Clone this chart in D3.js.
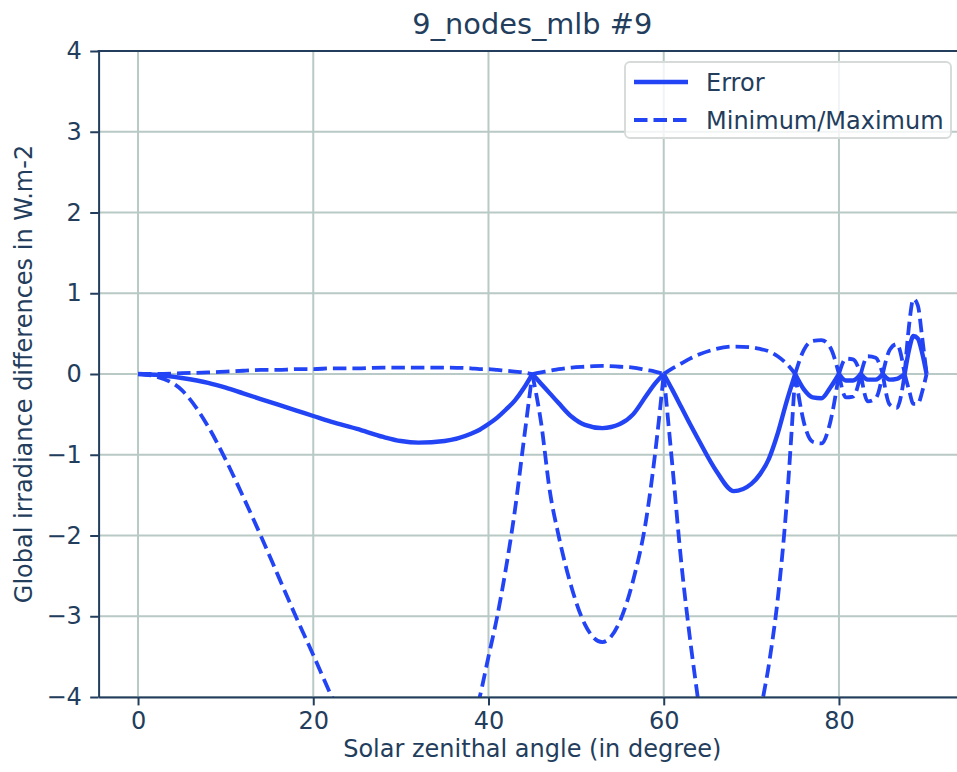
<!DOCTYPE html>
<html>
<head>
<meta charset="utf-8">
<script src="https://cdn.jsdelivr.net/npm/d3@7"></script>
<style>
body { margin: 0; background: #fff; }
text { font-family: "DejaVu Sans", sans-serif; fill: #233d5c; }
</style>
</head>
<body>
<div id="chart-area"></div>
<script>

let width = 957,
    height = 772;

// solar zenithal angle samples (nodes at 0, 45, 60, 75, 80, 82.5, 85, 87.5, 90)
let nodes = [0, 45, 60, 75, 80, 82.5, 85, 87.5, 90];

let angles = [0, 2, 5, 8, 10, 12, 14, 16, 18, 20, 22, 25, 28, 30, 32, 35, 38, 39, 40, 41, 42, 43, 44, 45,
  46, 47, 48, 49.5, 51, 53, 55, 56.5, 58, 59, 60,
  61, 62, 63, 64, 66, 68, 70, 71, 72, 73, 74, 75,
  76, 77, 78, 79, 80,
  80.8, 81.6, 82.5,
  83.3, 84.2, 85,
  85.8, 86.6, 87.5,
  88, 88.5, 89, 89.5, 90];

let errorVals = [0, -0.01, -0.05, -0.11, -0.17, -0.24, -0.31, -0.38, -0.45, -0.52, -0.59, -0.68, -0.78, -0.83, -0.85, -0.83, -0.74, -0.69, -0.62, -0.54, -0.44, -0.33, -0.18, 0,
  -0.12, -0.24, -0.36, -0.53, -0.63, -0.67, -0.62, -0.5, -0.27, -0.12, 0,
  -0.2, -0.41, -0.62, -0.82, -1.2, -1.45, -1.36, -1.24, -1.05, -0.74, -0.35, 0,
  -0.19, -0.29, -0.3, -0.17, 0,
  -0.08, -0.08, 0,
  -0.07, -0.07, 0,
  -0.07, -0.06, 0,
  0.3, 0.47, 0.44, 0.26, 0];

let maxVals = [0, 0, 0.01, 0.02, 0.03, 0.04, 0.05, 0.05, 0.06, 0.06, 0.07, 0.07, 0.08, 0.08, 0.08, 0.08, 0.07, 0.06, 0.06, 0.05, 0.04, 0.03, 0.02, 0,
  0.02, 0.04, 0.06, 0.08, 0.09, 0.1, 0.09, 0.08, 0.05, 0.03, 0,
  0.07, 0.13, 0.19, 0.24, 0.31, 0.34, 0.33, 0.31, 0.28, 0.22, 0.13, 0,
  0.3, 0.41, 0.42, 0.33, 0,
  0.19, 0.18, 0,
  0.22, 0.2, 0,
  0.3, 0.37, 0,
  0.6, 0.93, 0.85, 0.45, 0];

let minVals = [0, -0.03, -0.2, -0.65, -1.06, -1.52, -2.0, -2.5, -3.0, -3.48, -3.97, -4.6, -5.1, -5.3, -5.4, -5.2, -4.4, -4.0, -3.5, -3.0, -2.4, -1.7, -0.85, 0,
  -0.6, -1.45, -2.0, -2.65, -3.1, -3.32, -3.06, -2.56, -1.8, -1.0, 0,
  -1.15, -2.33, -3.28, -4.1, -5.8, -6.4, -5.3, -4.25, -3.6, -2.8, -1.65, 0,
  -0.6, -0.84, -0.86, -0.6, 0,
  -0.29, -0.28, 0,
  -0.34, -0.3, 0,
  -0.38, -0.42, 0,
  -0.2, -0.37, -0.37, -0.22, 0];

let xTicks = [0, 20, 40, 60, 80];
let yTicks = [-4, -3, -2, -1, 0, 1, 2, 3, 4];

let lineColor = "#2244f5",
    inkColor = "#233d5c",
    gridColor = "#b9c9c5";

let margin = {left: 98.6, top: 51, bottom: 697, right: 966};

let svg = d3.select("#chart-area").append("svg")
    .attr("width", width)
    .attr("height", height)
    .style("background", "#fff");

let x = d3.scaleLinear().domain([-4.5, 94.5]).range([margin.left, margin.right]);
let y = d3.scaleLinear().domain([-4, 4]).range([margin.bottom, margin.top]);

svg.append("clipPath").attr("id", "plot-clip")
  .append("rect")
    .attr("x", margin.left)
    .attr("y", margin.top)
    .attr("width", margin.right - margin.left)
    .attr("height", margin.bottom - margin.top);

// grid
svg.selectAll(".vgrid")
  .data(xTicks)
  .enter().append("line")
    .attr("class", "vgrid")
    .attr("x1", function(d) { return x(d); })
    .attr("x2", function(d) { return x(d); })
    .attr("y1", margin.top)
    .attr("y2", margin.bottom)
    .style("stroke", gridColor)
    .style("stroke-width", 2);

svg.selectAll(".hgrid")
  .data(yTicks)
  .enter().append("line")
    .attr("class", "hgrid")
    .attr("x1", margin.left)
    .attr("x2", margin.right)
    .attr("y1", function(d) { return y(d); })
    .attr("y2", function(d) { return y(d); })
    .style("stroke", gridColor)
    .style("stroke-width", 2);

// curves, drawn piecewise between nodes so the cusps stay sharp
let line = d3.line()
    .x(function(d) { return x(d[0]); })
    .y(function(d) { return y(d[1]); })
    .curve(d3.curveMonotoneX);

function piecewise(vals) {
  let pts = angles.map(function(a, i) { return [a, vals[i]]; });
  let path = "";
  for (let k = 0; k < nodes.length - 1; k++) {
    let seg = pts.filter(function(p) { return p[0] >= nodes[k] && p[0] <= nodes[k + 1]; });
    path += line(seg);
  }
  return path;
}

let plot = svg.append("g").attr("clip-path", "url(#plot-clip)");

[maxVals, minVals].forEach(function(vals) {
  plot.append("path")
    .attr("d", piecewise(vals))
    .style("fill", "none")
    .style("stroke", lineColor)
    .style("stroke-width", 3.8)
    .style("stroke-dasharray", "13.5,6");
});

plot.append("path")
  .attr("d", piecewise(errorVals))
  .style("fill", "none")
  .style("stroke", lineColor)
  .style("stroke-width", 4.4)
  .style("stroke-linejoin", "round");

// axes
function fmt(d) { return d < 0 ? "\u2212" + Math.abs(d) : String(d); }

let xAxis = svg.append("g")
    .attr("transform", "translate(0," + margin.bottom + ")")
    .call(d3.axisBottom(x).tickValues(xTicks).tickSize(8.4).tickSizeOuter(0).tickPadding(7).tickFormat(fmt));

let yAxis = svg.append("g")
    .attr("transform", "translate(" + margin.left + ",0)")
    .call(d3.axisLeft(y).tickValues(yTicks).tickSize(8.4).tickSizeOuter(0).tickPadding(8.4).tickFormat(fmt));

[xAxis, yAxis].forEach(function(ax) {
  ax.select(".domain").style("stroke", inkColor).style("stroke-width", 2);
  ax.selectAll(".tick line").style("stroke", inkColor).style("stroke-width", 2);
  ax.selectAll(".tick text")
    .style("font-size", "24px")
    .style("font-family", "DejaVu Sans")
    .style("fill", inkColor);
});

// top spine
svg.append("line")
  .attr("x1", margin.left - 1).attr("x2", margin.right)
  .attr("y1", margin.top).attr("y2", margin.top)
  .style("stroke", inkColor)
  .style("stroke-width", 2);

// labels
svg.append("text")
  .attr("x", (margin.left + margin.right) / 2)
  .attr("y", 34)
  .attr("text-anchor", "middle")
  .style("font-size", "28.8px")
  .text("9_nodes_mlb #9");

svg.append("text")
  .attr("x", (margin.left + margin.right) / 2)
  .attr("y", 757)
  .attr("text-anchor", "middle")
  .style("font-size", "24px")
  .text("Solar zenithal angle (in degree)");

svg.append("text")
  .attr("transform", "translate(32," + (margin.top + margin.bottom) / 2 + ") rotate(-90)")
  .attr("text-anchor", "middle")
  .style("font-size", "24px")
  .text("Global irradiance differences in W.m-2");

// legend
let legend = svg.append("g");

legend.append("rect")
  .attr("x", 625).attr("y", 62)
  .attr("width", 326).attr("height", 76)
  .attr("rx", 5)
  .style("fill", "#fff")
  .style("fill-opacity", 0.8)
  .style("stroke", "#d6dbd9")
  .style("stroke-width", 1.9);

let legendItems = [
  {label: "Error", dash: null, yy: 82, w: 4.4},
  {label: "Minimum/Maximum", dash: "13.5,6", yy: 120, w: 3.8}
];

legendItems.forEach(function(d) {
  legend.append("line")
    .attr("x1", 634).attr("x2", 688)
    .attr("y1", d.yy).attr("y2", d.yy)
    .style("stroke", lineColor)
    .style("stroke-width", d.w)
    .style("stroke-dasharray", d.dash);
  legend.append("text")
    .attr("x", 706)
    .attr("y", d.yy + 8.5)
    .style("font-size", "24px")
    .text(d.label);
});

</script>
</body>
</html>
